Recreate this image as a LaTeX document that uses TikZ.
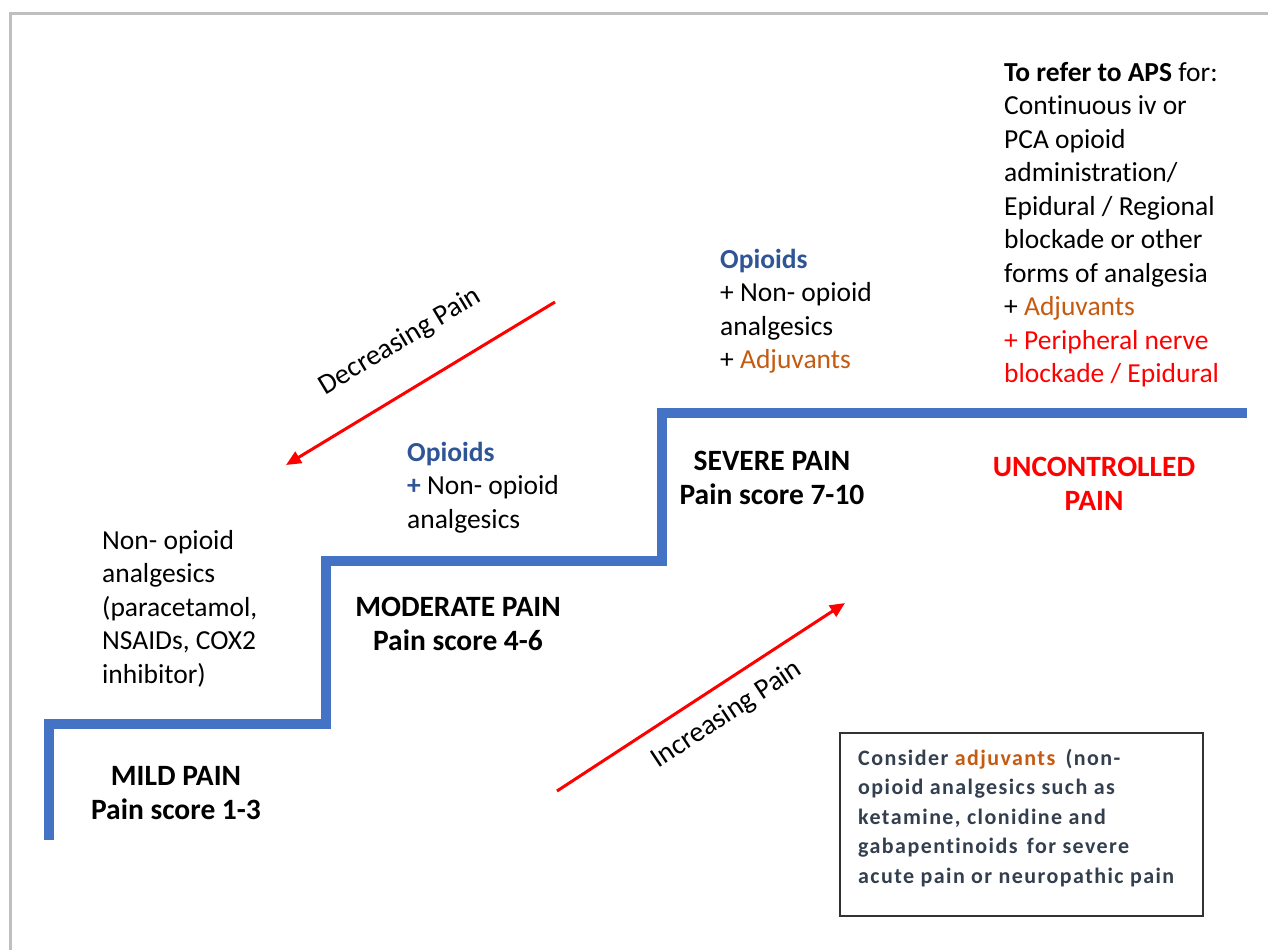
\documentclass[tikz,border=0pt]{standalone}
\usepackage{fontspec}
\setmainfont[RawFeature={-liga;-clig;-calt}]{Carlito}
\newfontfamily\notefont[LetterSpace=6.5,RawFeature={-liga;-clig;-calt}]{Carlito}
\usetikzlibrary{arrows.meta}

\definecolor{stairblue}{RGB}{68,114,196}
\definecolor{opioidblue}{RGB}{47,85,151}
\definecolor{adjorange}{RGB}{197,90,17}
\definecolor{notetext}{RGB}{51,63,79}
\definecolor{noteborder}{RGB}{50,50,50}
\definecolor{framegray}{RGB}{191,191,191}
\definecolor{alarmred}{RGB}{255,0,0}

\newcommand{\opi}[1]{\textcolor{opioidblue}{\textbf{#1}}}
\newcommand{\adj}[1]{\textcolor{adjorange}{#1}}

\begin{document}
\begin{tikzpicture}[x=1pt,y=-1pt,
  % multi-line nodes are placed by the baseline of their last line
  bodytext/.style={font=\fontsize{27.5}{33.5}\selectfont, align=left,
    inner sep=0pt, anchor=base west},
  levellabel/.style={font=\bfseries\fontsize{29.5}{34}\selectfont, align=center,
    inner sep=0pt, anchor=base},
  trendlabel/.style={font=\fontsize{28.5}{34}\selectfont, inner sep=0pt, anchor=base},
  painarrow/.style={draw=alarmred, line width=3pt,
    -{Triangle[length=15pt,width=13pt]}},
  stairline/.style={draw=stairblue, line width=10pt, line join=miter},
  notebox/.style={draw=noteborder, line width=1.5pt, inner sep=0pt,
    minimum width=363pt, minimum height=183pt, anchor=north west},
  notestyle/.style={font=\notefont\bfseries\fontsize{22}{29.5}\selectfont,
    text=notetext, align=left, inner sep=0pt, anchor=base west}
]
\fill[white] (0,0) rectangle (1268,950);
\useasboundingbox (0,0) rectangle (1268,950);

% frame edges
\draw[framegray, line width=2.5pt] (10.3,950) -- (10.3,13.7) -- (1268,13.7);

% the pain ladder
\coordinate (st0) at (48.5,840);
\coordinate (st1) at (48.5,724);
\coordinate (st2) at (326,724);
\coordinate (st3) at (326,561);
\coordinate (st4) at (662,561);
\coordinate (st5) at (662,413);
\coordinate (st6) at (1247,413);
\draw[stairline] (st0) -- (st1) -- (st2) -- (st3) -- (st4) -- (st5) -- (st6);

% treatment on each step
\node[bodytext] (aps) at (1004,382.5) {\textbf{To refer to APS} for:\\Continuous iv or\\PCA opioid\\administration/\\Epidural / Regional\\blockade or other\\forms of analgesia\\+ \adj{Adjuvants}\\\textcolor{alarmred}{+ Peripheral nerve}\\\textcolor{alarmred}{blockade / Epidural}};
\node[bodytext] (severerx) at (720,368.5) {\opi{Opioids}\\+ Non- opioid\\analgesics\\+ \adj{Adjuvants}};
\node[bodytext] (moderaterx) at (407,528) {\opi{Opioids}\\\opi{+} Non- opioid\\analgesics};
\node[bodytext] (mildrx) at (102,683) {Non- opioid\\analgesics\\(paracetamol,\\NSAIDs, COX2\\inhibitor)};

% pain levels
\node[levellabel] (mild) at (176,819) {MILD PAIN\\Pain score 1-3};
\node[levellabel] (moderate) at (458,650) {MODERATE PAIN\\Pain score 4-6};
\node[levellabel] (severe) at (772,504) {SEVERE PAIN\\Pain score 7-10};
\node[levellabel, text=alarmred] (uncontrolled) at (1094,510) {UNCONTROLLED\\PAIN};

% direction arrows
\coordinate (decfrom) at (555,302);
\coordinate (decto) at (286,465);
\draw[painarrow] (decfrom) -- (decto);
\node[trendlabel, rotate=31] (dec) at (404,348) {Decreasing Pain};

\coordinate (incfrom) at (557,791);
\coordinate (incto) at (845,603);
\draw[painarrow] (incfrom) -- (incto);
\node[trendlabel, rotate=33.5] (inc) at (731,721) {Increasing Pain};

% adjuvant note
\node[notebox] (adjbox) at (839,732) {};
\node[notestyle] (adjnote) at (858,883) {Consider \textcolor{adjorange}{adjuvants}\hspace{4pt} (non-\\opioid analgesics such as\\ketamine, clonidine and\\gabapentinoids\hspace{3pt} for severe\\acute pain or neuropathic pain};
\end{tikzpicture}
\end{document}
